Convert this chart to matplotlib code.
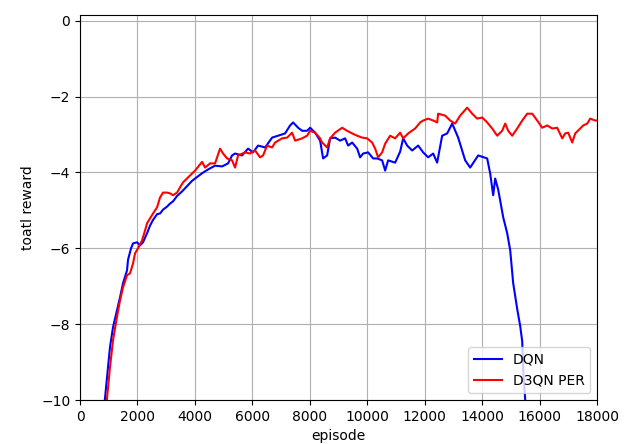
import matplotlib
matplotlib.use("Agg")
import matplotlib.pyplot as plt

# DQN curve
dqn_ep = [820, 870, 975, 1044, 1149, 1288, 1393, 1497, 1636, 1671, 1776, 1845, 1985, 2089,
          2193, 2333, 2437, 2542, 2681, 2785, 2890, 3029, 3133, 3238, 3377, 3551, 3725, 3899,
          4108, 4248, 4456, 4700, 4944, 5153, 5292, 5396, 5640, 5849, 6023, 6197, 6441, 6685,
          6894, 7137, 7311, 7416, 7590, 7729, 7903, 8008, 8182, 8356, 8460, 8600, 8704, 8878,
          9052, 9226, 9331, 9470, 9644, 9748, 9853, 10027, 10201, 10340, 10514, 10619, 10723,
          10967, 11141, 11246, 11385, 11559, 11768, 11942, 12116, 12290, 12429, 12603, 12777,
          12952, 13160, 13404, 13578, 13857, 14170, 14275, 14379, 14449, 14553, 14727, 14866,
          14971, 15075, 15215, 15319, 15389, 15424, 15493, 15530]
dqn_reward = [-10.3, -9.95, -9.13, -8.6, -8.08, -7.63, -7.29, -6.92, -6.58, -6.3, -6.0, -5.87,
              -5.84, -5.92, -5.84, -5.6, -5.4, -5.25, -5.1, -5.08, -4.98, -4.9, -4.82, -4.76,
              -4.62, -4.5, -4.36, -4.22, -4.1, -4.02, -3.92, -3.82, -3.84, -3.76, -3.55, -3.5,
              -3.55, -3.37, -3.47, -3.29, -3.34, -3.08, -3.03, -2.97, -2.76, -2.68, -2.82, -2.9,
              -2.9, -2.82, -2.95, -3.16, -3.63, -3.55, -3.1, -3.08, -3.16, -3.1, -3.29, -3.21,
              -3.37, -3.6, -3.5, -3.47, -3.63, -3.63, -3.68, -3.95, -3.68, -3.74, -3.45, -3.1,
              -3.29, -3.42, -3.29, -3.47, -3.6, -3.5, -3.74, -3.03, -2.97, -2.71, -3.08, -3.68,
              -3.87, -3.55, -3.63, -4.03, -4.6, -4.16, -4.45, -5.18, -5.6, -6.05, -6.92, -7.6,
              -8.05, -8.45, -9.2, -10.0, -10.4]

# D3QN PER curve
per_ep = [920, 940, 1044, 1149, 1288, 1393, 1497, 1636, 1741, 1845, 1915, 2019, 2159, 2263,
          2333, 2437, 2542, 2681, 2785, 2890, 3029, 3133, 3238, 3377, 3482, 3586, 3760, 4004,
          4248, 4352, 4526, 4700, 4874, 4979, 5118, 5292, 5396, 5501, 5745, 5919, 6093, 6267,
          6371, 6511, 6685, 6789, 7033, 7207, 7381, 7485, 7729, 7903, 8008, 8182, 8356, 8425,
          8600, 8704, 8878, 9122, 9296, 9470, 9644, 9818, 9992, 10166, 10271, 10375, 10514,
          10619, 10793, 10967, 11141, 11246, 11420, 11663, 11837, 11942, 12116, 12290, 12429,
          12464, 12708, 12882, 13056, 13230, 13474, 13648, 13822, 13996, 14170, 14344, 14518,
          14692, 14797, 14901, 15041, 15215, 15389, 15563, 15737, 15911, 16085, 16259, 16433,
          16607, 16781, 16886, 16990, 17129, 17234, 17408, 17512, 17652, 17756, 17930, 18000]
per_reward = [-10.3, -9.95, -9.13, -8.42, -7.8, -7.37, -7.03, -6.71, -6.66, -6.4, -6.13, -6.0,
              -5.79, -5.53, -5.34, -5.21, -5.08, -4.92, -4.66, -4.53, -4.53, -4.55, -4.6, -4.53,
              -4.39, -4.26, -4.13, -3.95, -3.72, -3.87, -3.76, -3.76, -3.37, -3.5, -3.63, -3.68,
              -3.87, -3.55, -3.47, -3.5, -3.42, -3.6, -3.55, -3.29, -3.34, -3.21, -3.1, -3.08,
              -2.95, -3.16, -3.1, -3.03, -2.9, -2.95, -3.1, -3.21, -3.34, -3.1, -2.95, -2.82,
              -2.9, -2.97, -3.03, -3.08, -3.1, -3.21, -3.37, -3.6, -3.47, -3.24, -3.03, -3.1,
              -2.95, -3.1, -2.97, -2.84, -2.68, -2.63, -2.58, -2.63, -2.68, -2.45, -2.5, -2.63,
              -2.71, -2.5, -2.29, -2.45, -2.58, -2.55, -2.68, -2.84, -3.03, -2.9, -2.71, -2.9,
              -3.03, -2.84, -2.63, -2.45, -2.45, -2.63, -2.82, -2.76, -2.84, -2.82, -3.1, -2.97,
              -2.95, -3.21, -2.97, -2.84, -2.76, -2.71, -2.58, -2.63, -2.63]

fig = plt.figure(figsize=(6.3, 4.44), dpi=100)
ax = fig.add_axes([0.127, 0.099, 0.821, 0.867])

ax.plot(dqn_ep, dqn_reward, color="blue", lw=1.5, label="DQN")
ax.plot(per_ep, per_reward, color="red", lw=1.5, label="D3QN PER")

ax.set_xlim(0, 18000)
ax.set_ylim(-10, 0.15)
ax.set_xlabel("episode")
ax.set_ylabel("toatl reward")
ax.grid(True)
ax.legend(loc="lower right")

fig.savefig("out.png", dpi=100)
